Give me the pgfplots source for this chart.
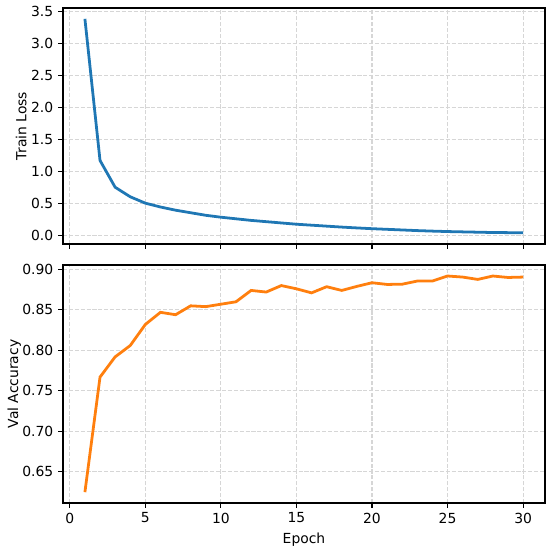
\documentclass[border=0pt]{standalone}
\usepackage{fontspec}
\setmainfont{DejaVu Sans}
\usepackage{pgfplots}
\pgfplotsset{compat=1.18}
\definecolor{tabblue}{HTML}{1F77B4}
\definecolor{taborange}{HTML}{FF7F0E}
\pgfplotsset{
  common/.style={
    scale only axis,
    width=347.04pt,
    xmin=-0.45, xmax=31.45,
    xtick={0,5,10,15,20,25,30},
    axis line style={line width=0.8pt, black},
    tick style={line width=0.8pt, black},
    major tick length=3.5pt,
    tick align=outside,
    xtick pos=bottom, ytick pos=left,
    grid=major,
    major grid style={line width=0.8pt, color=black!16, dash pattern=on 2.96pt off 1.28pt},
    /pgf/number format/assume math mode=true,
    tick label style={font=\fontsize{10}{12}\selectfont},
    label style={font=\fontsize{10}{12}\selectfont},
  }
}
\begin{document}
\begin{tikzpicture}
\useasboundingbox (-45.36pt,-33.84pt) rectangle (350.64pt,362.16pt);
% bottom axis
\begin{axis}[common,
  at={(0pt,0pt)}, anchor=south west,
  height=171.36pt,
  ymin=0.6116, ymax=0.9054,
  ytick={0.65,0.70,0.75,0.80,0.85,0.90},
  yticklabel style={/pgf/number format/.cd, fixed, fixed zerofill, precision=2},
  xlabel={Epoch}, ylabel={Val Accuracy},
  ylabel shift=-6pt,
]
\addplot[taborange, line width=2pt, mark=none] coordinates {
(1,0.625)(2,0.767)(3,0.792)(4,0.806)(5,0.832)(6,0.847)(7,0.844)(8,0.855)(9,0.854)(10,0.857)
(11,0.860)(12,0.874)(13,0.872)(14,0.880)(15,0.876)(16,0.871)(17,0.8786)(18,0.874)(19,0.879)(20,0.8835)
(21,0.8814)(22,0.8817)(23,0.8856)(24,0.8856)(25,0.8918)(26,0.8905)(27,0.8876)(28,0.8918)(29,0.890)(30,0.8905)
};
\end{axis}
% top axis
\begin{axis}[common,
  at={(0pt,186.48pt)}, anchor=south west,
  height=169.92pt,
  ymin=-0.14, ymax=3.56,
  ytick={0,0.5,1,1.5,2,2.5,3,3.5},
  yticklabel style={/pgf/number format/.cd, fixed, fixed zerofill, precision=1},
  xticklabels={},
  ylabel={Train Loss},
  ylabel shift=-3.5pt,
]
\addplot[tabblue, line width=2pt, mark=none] coordinates {
(1,3.39)(2,1.17)(3,0.75)(4,0.60)(5,0.50)(6,0.44)(7,0.39)(8,0.35)(9,0.31)(10,0.28)
(11,0.255)(12,0.23)(13,0.21)(14,0.19)(15,0.17)(16,0.155)(17,0.14)(18,0.125)(19,0.112)(20,0.10)
(21,0.09)(22,0.08)(23,0.07)(24,0.062)(25,0.055)(26,0.05)(27,0.045)(28,0.04)(29,0.038)(30,0.036)
};
\end{axis}
\end{tikzpicture}
\end{document}
